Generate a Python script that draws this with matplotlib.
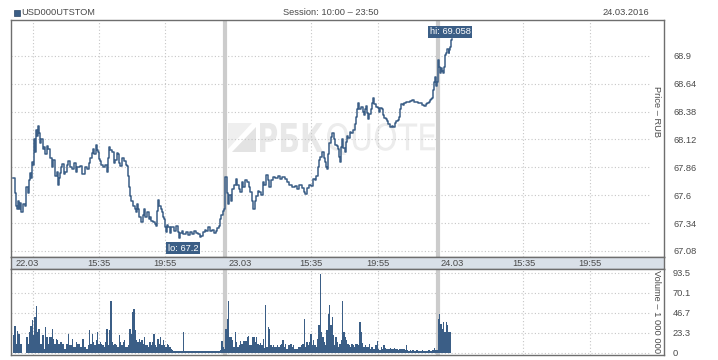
import matplotlib
matplotlib.use("Agg")
import matplotlib.pyplot as plt
from matplotlib.textpath import TextPath
from matplotlib.patches import PathPatch, Rectangle, Polygon
from matplotlib.font_manager import FontProperties
from matplotlib.transforms import Affine2D

plt.rcParams['font.family'] = ['Liberation Sans', 'DejaVu Sans']

# ---------------- data ----------------
ticker = "USD000UTSTOM"
session_text = "Session: 10:00 \u2013 23:50"
date_text = "24.03.2016"
SESSION = 13 + 50 / 60          # trading hours per day (10:00 - 23:50)
day_labels = ["22.03", "23.03", "24.03"]
intraday_ticks = [5 + 35 / 60, 9 + 55 / 60]   # 15:35, 19:55 (hours after 10:00)
intraday_labels = ["15:35", "19:55"]
first_grid = 1.3                 # extra grid line on first day
price_ticks = [67.08, 67.34, 67.6, 67.86, 68.12, 68.38, 68.64, 68.9]
volume_ticks = [0, 23.3, 46.7, 70.1, 93.5]

# price: time in session-hours since 22.03 10:00, value in RUB
price_t = [0.0, 0.13, 0.2, 0.26, 0.33, 0.4, 0.46, 0.55, 0.65, 0.75, 0.85, 0.95, 1.05, 1.11, 1.18, 1.24, 1.3,
           1.37, 1.43, 1.5, 1.57, 1.63, 1.7, 1.76, 1.85, 1.95, 2.02, 2.1, 2.2, 2.28, 2.4, 2.54, 2.6, 2.74,
           2.85, 2.93, 3.0, 3.06, 3.12, 3.19, 3.3, 3.39, 3.5, 3.58, 3.7, 3.84, 3.95, 4.1, 4.2, 4.36, 4.5,
           4.63, 4.72, 4.82, 4.92, 5.02, 5.12, 5.21, 5.3, 5.41, 5.48, 5.54, 5.6, 5.67, 5.75, 5.86, 6.0, 6.12,
           6.2, 6.25, 6.35, 6.45, 6.55, 6.65, 6.75, 6.84, 6.9, 6.97, 7.1, 7.23, 7.33, 7.43, 7.5, 7.56, 7.62,
           7.72, 7.82, 7.92, 8.01, 8.08, 8.14, 8.24, 8.34, 8.44, 8.53, 8.63, 8.73, 8.83, 8.93, 9.02, 9.12,
           9.22, 9.32, 9.4, 9.45, 9.52, 9.58, 9.65, 9.71, 9.78, 9.84, 9.9, 9.97, 10.04, 10.1, 10.2, 10.3,
           10.36, 10.5, 10.62, 10.72, 10.81, 10.9, 11.01, 11.1, 11.27, 11.4, 11.53, 11.65, 11.79, 11.9,
           12.05, 12.15, 12.25, 12.4, 12.51, 12.6, 12.7, 12.85, 12.96, 13.1, 13.22, 13.32, 13.42, 13.5,
           13.55, 13.65, 13.75,
           13.84, 13.92, 14.01, 14.1, 14.2, 14.27, 14.4, 14.53, 14.6, 14.7, 14.79, 14.9, 14.98, 15.1, 15.24,
           15.35, 15.44, 15.55, 15.64, 15.74, 15.83, 15.93, 16.03, 16.15, 16.29, 16.38, 16.48, 16.58, 16.68,
           16.8, 16.94, 17.1, 17.26, 17.4, 17.52, 17.7, 17.85, 18.0, 18.18, 18.35, 18.5, 18.65, 18.83,
           18.95, 19.02, 19.15, 19.28, 19.4, 19.54, 19.65, 19.74, 19.85, 19.93, 20.03, 20.13, 20.23, 20.33,
           20.4, 20.46, 20.53, 20.59, 20.7, 20.78, 20.88, 20.98, 21.08, 21.17, 21.25, 21.3, 21.37, 21.43,
           21.53, 21.63, 21.7, 21.76, 21.85, 21.95, 22.05, 22.15, 22.25, 22.35, 22.42, 22.48, 22.57, 22.67,
           22.77, 22.87, 22.94, 23.0, 23.06, 23.13, 23.22, 23.32, 23.4, 23.45, 23.55, 23.65, 23.75, 23.84,
           23.94, 24.04, 24.1, 24.17, 24.27, 24.36, 24.46, 24.56, 24.66, 24.76, 24.86, 24.95, 25.05, 25.15,
           25.22, 25.28, 25.38, 25.47, 25.6, 25.73, 25.86, 25.99, 26.12, 26.25, 26.38, 26.51, 26.65, 26.78,
           26.88, 26.97, 27.07, 27.17, 27.25, 27.3, 27.36, 27.44, 27.5, 27.56, 27.62,
           27.68, 27.76, 27.8, 27.88, 27.95, 28.02, 28.08, 28.12, 28.2, 28.3, 28.38, 28.43, 28.5, 28.55, 28.6]
price_v = [67.76, 67.62, 67.5, 67.47, 67.55, 67.47, 67.53, 67.44, 67.52, 67.5, 67.68, 67.62, 67.74, 67.81,
           67.76, 67.91, 67.88, 68.12, 68.0, 68.21, 68.15, 68.25, 68.18, 68.09, 68.12, 68.03, 68.05, 67.98,
           68.06, 68.03, 67.95, 67.86, 67.93, 67.78, 67.82, 67.7, 67.76, 67.81, 67.86, 67.89, 67.8, 67.82,
           67.88, 67.92, 67.86, 67.84, 67.9, 67.82, 67.86, 67.87, 67.8, 67.8, 67.86, 67.84, 67.9, 67.95,
           67.99, 68.03, 67.98, 68.07, 68.02, 68.0, 67.94, 67.92, 67.88, 67.86, 67.88, 67.82, 67.95, 68.05,
           68.02, 68.0, 67.9, 67.93, 67.99, 67.98, 67.9, 67.87, 67.95, 67.92, 67.88, 67.87, 67.78, 67.68,
           67.59, 67.55, 67.5, 67.47, 67.44, 67.52, 67.47, 67.4, 67.35, 67.42, 67.47, 67.4, 67.44, 67.38,
           67.4, 67.36, 67.35, 67.33, 67.31, 67.45, 67.56, 67.5, 67.5, 67.47, 67.44, 67.4, 67.38, 67.3,
           67.26, 67.32, 67.3, 67.25, 67.3, 67.3, 67.27, 67.31, 67.26, 67.2, 67.25, 67.27, 67.24, 67.26,
           67.23, 67.26, 67.24, 67.27, 67.25, 67.24, 67.21, 67.22, 67.26, 67.28, 67.27, 67.3, 67.27, 67.28,
           67.25, 67.27, 67.29, 67.31, 67.38, 67.42, 67.45, 67.47,
           67.77, 67.62, 67.52, 67.6, 67.55, 67.66, 67.7, 67.75, 67.7, 67.66, 67.63, 67.72, 67.68, 67.74,
           67.72, 67.68, 67.63, 67.55, 67.47, 67.55, 67.59, 67.64, 67.63, 67.6, 67.72, 67.7, 67.79, 67.74,
           67.68, 67.74, 67.77, 67.76, 67.78, 67.75, 67.77, 67.75, 67.72, 67.7, 67.68, 67.69, 67.66, 67.7,
           67.67, 67.63, 67.61, 67.67, 67.7, 67.69, 67.75, 67.74, 67.78, 67.86, 67.93, 67.96, 68.0, 67.95,
           67.91, 67.86, 67.84, 67.98, 68.09, 68.14, 68.18, 68.12, 68.07, 68.06, 68.03, 67.96, 67.91, 68.05,
           68.12, 68.04, 68.0, 68.1, 68.15, 68.13, 68.19, 68.18, 68.21, 68.26, 68.33, 68.4, 68.46, 68.4,
           68.42, 68.38, 68.35, 68.4, 68.43, 68.37, 68.31, 68.36, 68.4, 68.46, 68.51, 68.45, 68.42, 68.41,
           68.38, 68.41, 68.4, 68.35, 68.32, 68.31, 68.29, 68.26, 68.24, 68.25, 68.24, 68.27, 68.29, 68.3,
           68.33, 68.4, 68.45, 68.44, 68.46, 68.47, 68.47, 68.48, 68.49, 68.47, 68.47, 68.46, 68.46, 68.44,
           68.43, 68.45, 68.46, 68.47, 68.49, 68.5, 68.51, 68.58, 68.66, 68.7, 68.62, 68.66,
           68.86, 68.8, 68.74, 68.79, 68.76, 68.74, 68.8, 68.91, 68.93, 68.96, 68.93, 68.95, 68.98, 69.05,
           69.058]

# volume (millions), evenly spaced bars inside each day's session
volume_day1 = [20.3, 30.8, 10.5, 25, 22.2, 10.5, 10.5, 0, 0, 0, 18.3, 10.5, 24.2, 30.8, 37.8, 20.3, 41.7,
               54.2, 24.2, 28, 10.5, 10.5, 20.3, 4.7, 30, 18.3, 10.5, 18.3, 18.3, 28, 16.4, 10.5, 16.4, 14.4,
               10.5, 12.5, 12.5, 10.5, 4.7, 4.7, 10.5, 22.2, 8.6, 8.6, 16.4, 6.6, 6.6, 12.5, 10.5, 10.5, 6.6,
               6.6, 16.4, 6.6, 6.6, 4.7, 8.6, 26, 10.5, 22.2, 12.5, 8.6, 14.4, 24.2, 10.5, 12.5, 10.5, 8.6,
               6.6, 12.5, 28, 8.6, 26, 61, 12.5, 8.6, 10.5, 8.6, 6.6, 20.3, 12.5, 8.6, 12.5, 14.4, 6.6, 6.6,
               8.6, 28, 22.2, 47.5, 51.4, 26, 14.4, 12.5, 16.4, 12.5, 14.4, 10.5, 18.3, 8.6, 8.6, 6.6, 12.5,
               8.6, 12.5, 22.2, 8.6, 6.6, 16.4, 10.5, 18.3, 8.6, 14.4, 8.6, 6.6, 10.5, 8.6, 6.6, 4.7, 2.7,
               1.6, 1.6, 1.9, 1.6, 1.6, 1.9, 1.6, 24.2, 2.3, 2.3, 1.9, 2.3, 2.3, 1.9, 2.3, 2.3, 2.3, 1.9,
               2.3, 2.3, 1.9, 2.3, 2.3, 2.3, 1.9, 2.3, 2.3, 1.9, 2.3, 2.3, 2.3, 1.9, 2.3, 2.3, 2.3, 2.7,
               13.2, 6.6, 4.7]
volume_day2 = [28, 39.8, 60, 18.3, 18.3, 14.4, 6.6, 24.2, 12.5, 6.6, 9.4, 13.2, 10.5, 13.2, 13.2, 13.2,
               18.3, 19.5, 8.6, 8.6, 18.3, 18.3, 12.5, 18.3, 10.5, 9.4, 11.7, 8.6, 16.4, 5.5, 55.3, 6.6, 30,
               28, 8.6, 6.6, 8.6, 6.6, 6.6, 8.6, 6.6, 8.6, 10.5, 14.4, 6.6, 10.5, 4.7, 9.4, 8.6, 10.5, 6.6,
               9.4, 4.7, 3.9, 4.7, 6.6, 6.6, 8.6, 10.5, 39.8, 6.6, 12.5, 9.4, 12.5, 22.2, 8.6, 14.4, 8.6,
               6.6, 16.4, 32, 92.3, 24.2, 18.3, 12.5, 8.6, 26, 45.6, 56, 32, 41.7, 20.3, 9.4, 18.3, 12.5,
               6.6, 10.5, 14.4, 60, 24.2, 18.3, 14.4, 10.5, 8.6, 6.6, 10.5, 8.6, 6.6, 10.5, 10.5, 8.6, 35.8,
               24.2, 11.7, 6.6, 8.6, 6.6, 6.6, 10.5, 4.7, 6.6, 4.7, 3.9, 8.6, 13.2, 3.9, 2.7, 6.6, 4.7, 8.6,
               5.5, 4.7, 3.9, 4.7, 5.5, 4.7, 3.9, 5.5, 3.9, 4.7, 3.5, 3.9, 3.9, 4.7, 3.9, 2.7, 9.4, 2.7,
               2.3, 2.7, 2.3, 2.7, 2.3, 2.3, 2.7, 2.3, 2.3, 2.3, 2.7, 2.3, 2.3, 2.3, 2.3, 2.7, 2.3, 2.3,
               3.5, 5.5, 2.7, 2.7]
volume_day3 = [39.8, 45.6, 33.9, 28, 35.8, 24.2, 35.8, 32, 24.2, 24.2]

# ---------------- layout helpers ----------------
W, H = 718, 360
BLUE = "#3b5e86"
TXT = "#4a4a4a"
FRAME = "#6e6e6e"
GRID = "#c6c6c6"
SEP = "#cccccc"
FS = 6.7


def fx(px):
    return px / W


def fy(py):
    return 1 - py / H


fig = plt.figure(figsize=(W / 100, H / 100), dpi=100)
fig.patch.set_facecolor("white")

L, R = 11, 664
xlim = (-0.13, 42.41)
ax_p = fig.add_axes([fx(L), fy(257), (R - L) / W, (257 - 20) / H])
ax_b = fig.add_axes([fx(L), fy(269), (R - L) / W, (269 - 257) / H])
ax_v = fig.add_axes([fx(L), fy(355), (R - L) / W, (355 - 269) / H])

day_starts = [d * SESSION for d in range(3)]
grid_end = 3 * SESSION
vgrid = [first_grid] + [ds + h for ds in day_starts for h in intraday_ticks]

for ax in (ax_p, ax_b, ax_v):
    ax.set_xlim(*xlim)
    for s in ax.spines.values():
        s.set_color(FRAME)
        s.set_linewidth(1.0)
    ax.set_xticks([])

# price panel
ax_p.set_ylim(67.024, 69.234)
for y in price_ticks:
    ax_p.plot([xlim[0], grid_end], [y, y], color=GRID, lw=0.8, ls=(0, (1, 2)), zorder=1)
for x in vgrid:
    ax_p.axvline(x, color=GRID, lw=0.8, ls=(0, (1, 2)), zorder=1)
for ds in day_starts[1:]:
    ax_p.axvline(ds, color=SEP, lw=3, zorder=1.5)
    ax_v.axvline(ds, color=SEP, lw=3, zorder=1.5)
ax_p.plot(price_t, price_v, color=BLUE, lw=1.1, zorder=3, drawstyle="steps-post")
ax_p.yaxis.tick_right()
ax_p.set_yticks(price_ticks)
ax_p.set_yticklabels([f"{v:g}" for v in price_ticks])
ax_p.tick_params(axis="y", length=0, pad=6.5, labelsize=FS, labelcolor=TXT)

hi = max(price_v)
lo = min(price_v)
t_hi = price_t[price_v.index(hi)]
t_lo = price_t[price_v.index(lo)]
box = dict(boxstyle="square,pad=0.18", fc=BLUE, ec="none")
ax_p.annotate(f"hi: {hi:g}", xy=(t_hi, hi), xytext=(-2, 7), textcoords="offset pixels",
              ha="center", va="center", color="white", fontsize=FS, bbox=box, zorder=5)
ax_p.annotate(f"lo: {lo:g}", xy=(t_lo, lo), xytext=(4, -10), textcoords="offset pixels",
              ha="center", va="center", color="white", fontsize=FS, bbox=box, zorder=5)

# watermark
def watermark(text, x0, y0, x1, y1, fp, color):
    tp = TextPath((0, 0), text, size=100, prop=fp)
    ext = tp.get_extents()
    tr = (Affine2D().translate(-ext.x0, -ext.y0)
          .scale((x1 - x0) / ext.width / W, (y1 - y0) / ext.height / H)
          .translate(x0 / W, 1 - y1 / H))
    patch = PathPatch(tr.transform_path(tp), transform=fig.transFigure, fc=color, ec="none",
                      zorder=0.5, clip_on=False)
    ax_p.add_artist(patch)


watermark("РБК", 260, 123, 323, 152, FontProperties(family="DejaVu Sans", weight="bold"), "#e8e8e8")
watermark("QUOTE", 327, 123, 435, 155, FontProperties(family=["DejaVu Sans"], weight="normal"), "#ececec")
for pts, col in ([[(228, 123), (252, 123), (228, 149)], "#efefef"],
                 [[(256, 127), (256, 152), (232, 152)], "#e3e3e3"]):
    ax_p.add_artist(Polygon([(fx(a), fy(b)) for a, b in pts], closed=True, transform=fig.transFigure,
                            fc=col, ec="none", zorder=0.5, clip_on=False))

# date band
ax_b.set_facecolor("#d9e0e8")
ax_b.set_ylim(0, 1)
ax_b.set_yticks([])
for ds, lab in zip(day_starts, day_labels):
    ax_b.text(ds + 0.95, 0.45, lab, ha="center", va="center", fontsize=FS, color=TXT)
    for h, tl in zip(intraday_ticks, intraday_labels):
        ax_b.text(ds + h, 0.45, tl, ha="center", va="center", fontsize=FS, color=TXT)

# volume panel
ax_v.set_ylim(-2.9, 98.2)
for y in volume_ticks:
    ax_v.plot([xlim[0], grid_end], [y, y], color=GRID, lw=0.8, ls=(0, (1, 2)), zorder=1)
for x in vgrid:
    ax_v.axvline(x, color=GRID, lw=0.8, ls=(0, (1, 2)), zorder=1)
for d, vols in enumerate([volume_day1, volume_day2]):
    step = SESSION / len(vols)
    xs = [day_starts[d] + (i + 0.5) * step for i in range(len(vols))]
    ax_v.bar(xs, vols, width=step, color=BLUE, zorder=3, linewidth=0)
step3 = SESSION / len(volume_day2)
xs3 = [day_starts[2] + (i + 0.5) * step3 for i in range(len(volume_day3))]
ax_v.bar(xs3, volume_day3, width=step3, color=BLUE, zorder=3, linewidth=0)
ax_v.yaxis.tick_right()
ax_v.set_yticks(volume_ticks)
ax_v.set_yticklabels([f"{v:g}" for v in volume_ticks])
ax_v.tick_params(axis="y", length=0, pad=6.5, labelsize=FS, labelcolor=TXT)

# axis titles
fig.text(fx(656), fy(112), "Price \u2013 RUB", rotation=270, ha="center", va="center",
         fontsize=FS, color=TXT)
fig.text(fx(656), fy(312), "Volume \u2013 1 000 000", rotation=270, ha="center", va="center",
         fontsize=FS, color=TXT)

# header
fig.add_artist(Rectangle((fx(14), fy(16)), 6 / W, 6 / H, transform=fig.transFigure,
                         fc=BLUE, ec="#2a4565", lw=0.5))
fig.text(fx(21), fy(12.5), ticker, ha="left", va="center", fontsize=FS, color=TXT)
fig.text(fx(331), fy(12.5), session_text, ha="center", va="center", fontsize=FS, color=TXT)
fig.text(fx(649), fy(12.5), date_text, ha="right", va="center", fontsize=FS, color=TXT)

fig.savefig("out.png", dpi=100, facecolor="white")
